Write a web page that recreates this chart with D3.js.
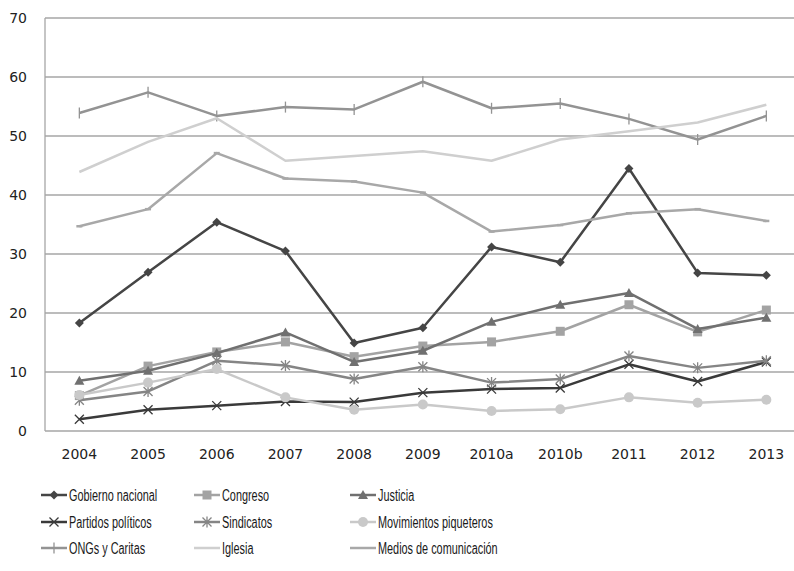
<!DOCTYPE html>
<html><head><meta charset="utf-8">
<script src="https://cdn.jsdelivr.net/npm/d3@7"></script>
<style>body{margin:0;background:#fff}svg{display:block}</style>
</head><body>
<svg id="c" width="794" height="571"></svg>
<script>
const categories = ["2004","2005","2006","2007","2008","2009","2010a","2010b","2011","2012","2013"];
const yTicks = [0,10,20,30,40,50,60,70];
const seriesNames = ["Gobierno nacional","Congreso","Justicia","Partidos políticos","Sindicatos","Movimientos piqueteros","ONGs y Caritas","Iglesia","Medios de comunicación"];
const gobierno   = [18.3,26.9,35.4,30.5,14.9,17.5,31.2,28.6,44.5,26.8,26.4];
const congreso   = [6.0,11.0,13.4,15.1,12.6,14.4,15.1,16.9,21.4,16.8,20.5];
const justicia   = [8.5,10.2,13.2,16.7,11.7,13.6,18.5,21.4,23.4,17.3,19.2];
const partidos   = [2.0,3.6,4.3,5.0,4.9,6.5,7.1,7.3,11.3,8.4,11.7];
const sindicatos = [5.2,6.7,11.9,11.1,8.8,10.9,8.2,8.8,12.7,10.7,11.9];
const piqueteros = [6.1,8.2,10.5,5.7,3.6,4.5,3.4,3.7,5.7,4.8,5.3];
const ongs       = [53.9,57.4,53.4,54.9,54.5,59.2,54.7,55.5,52.9,49.4,53.4];
const iglesia    = [43.9,49.0,53.0,45.8,46.6,47.4,45.8,49.4,50.8,52.3,55.3];
const medios     = [34.7,37.6,47.1,42.8,42.3,40.4,33.8,34.9,36.9,37.6,35.6];
const values = [gobierno,congreso,justicia,partidos,sindicatos,piqueteros,ongs,iglesia,medios];

const colors  = ["#454545","#a3a3a3","#707070","#3a3a3a","#858585","#c9c9c9","#939393","#cfcfcf","#a8a8a8"];
const markers = ["diamond","square","triangle","x","asterisk","circle","plus","none","dash"];

const svg = d3.select("#c");
const x = d3.scaleBand().domain(categories).range([45, 800.7]);
const y = d3.scaleLinear().domain([0,70]).range([431, 18]);
const cx = d => x(d) + x.bandwidth()/2;

svg.append("g").selectAll("line").data(yTicks.filter(t=>t>0)).join("line")
  .attr("x1",45).attr("x2",794).attr("y1",d=>y(d)).attr("y2",d=>y(d))
  .attr("stroke","#a6a6a6").attr("stroke-width",1.3);
svg.append("line").attr("x1",45).attr("x2",45).attr("y1",18).attr("y2",431).attr("stroke","#a6a6a6").attr("stroke-width",1.3);
svg.append("line").attr("x1",45).attr("x2",794).attr("y1",431).attr("y2",431).attr("stroke","#a6a6a6").attr("stroke-width",1.3);

const yAxis = d3.axisLeft(y).tickValues(yTicks).tickSize(0).tickPadding(18);
const ga = svg.append("g").attr("transform","translate(45,0)").call(yAxis);
ga.select(".domain").remove();
ga.selectAll("text").attr("font-family","DejaVu Sans, sans-serif").attr("font-size",14).attr("fill","#222");

const xAxis = d3.axisBottom(x).tickSize(0).tickPadding(18);
const gx = svg.append("g").attr("transform","translate(0,431)").call(xAxis);
gx.select(".domain").remove();
gx.selectAll("text").attr("font-family","DejaVu Sans, sans-serif").attr("font-size",14).attr("fill","#222");

function drawMarker(g, type, color, px, py){
  const s = 4.5;
  if(type==="diamond"){
    g.append("path").attr("d",`M${px},${py-s}L${px+s},${py}L${px},${py+s}L${px-s},${py}Z`).attr("fill",color);
  } else if(type==="square"){
    g.append("rect").attr("x",px-s).attr("y",py-s).attr("width",2*s).attr("height",2*s).attr("fill",color);
  } else if(type==="triangle"){
    g.append("path").attr("d",`M${px},${py-s-0.5}L${px+s+0.5},${py+s-0.5}L${px-s-0.5},${py+s-0.5}Z`).attr("fill",color);
  } else if(type==="circle"){
    g.append("circle").attr("cx",px).attr("cy",py).attr("r",s+0.5).attr("fill",color);
  } else if(type==="x"){
    g.append("path").attr("d",`M${px-s},${py-s}L${px+s},${py+s}M${px-s},${py+s}L${px+s},${py-s}`).attr("stroke",color).attr("stroke-width",1.3);
  } else if(type==="asterisk"){
    g.append("path").attr("d",`M${px-s},${py-s}L${px+s},${py+s}M${px-s},${py+s}L${px+s},${py-s}M${px},${py-s-1}L${px},${py+s+1}`).attr("stroke",color).attr("stroke-width",1.3);
  } else if(type==="plus"){
    g.append("path").attr("d",`M${px},${py-s-1}L${px},${py+s+1}`).attr("stroke",color).attr("stroke-width",1.3);
  } else if(type==="dash"){
    g.append("path").attr("d",`M${px-3},${py}L${px+3},${py}`).attr("stroke",color).attr("stroke-width",2.5);
  }
}

const line = d3.line().x((d,i)=>cx(categories[i])).y(d=>y(d));
const plot = svg.append("g");
values.forEach((vals,k)=>{
  const g = plot.append("g");
  g.append("path").datum(vals).attr("d",line).attr("fill","none")
    .attr("stroke",colors[k]).attr("stroke-width",2.5).attr("stroke-linejoin","round");
  vals.forEach((v,i)=>drawMarker(g, markers[k], colors[k], cx(categories[i]), y(v)));
});

const legCols = [41,194,350];
const legRows = [495,522,548];
const leg = svg.append("g");
seriesNames.forEach((name,k)=>{
  const lx = legCols[k%3], ly = legRows[Math.floor(k/3)];
  const g = leg.append("g");
  g.append("line").attr("x1",lx).attr("x2",lx+26).attr("y1",ly).attr("y2",ly).attr("stroke",colors[k]).attr("stroke-width",2.5);
  drawMarker(g, markers[k]==="dash"?"none":markers[k], colors[k], lx+13, ly);
  g.append("text").attr("transform",`translate(${lx+28},${ly}) scale(0.68,1)`).attr("dy","0.35em")
    .attr("font-family","Liberation Sans, sans-serif").attr("font-size",16).attr("fill","#1a1a1a").text(name);
});
</script>
</body></html>
